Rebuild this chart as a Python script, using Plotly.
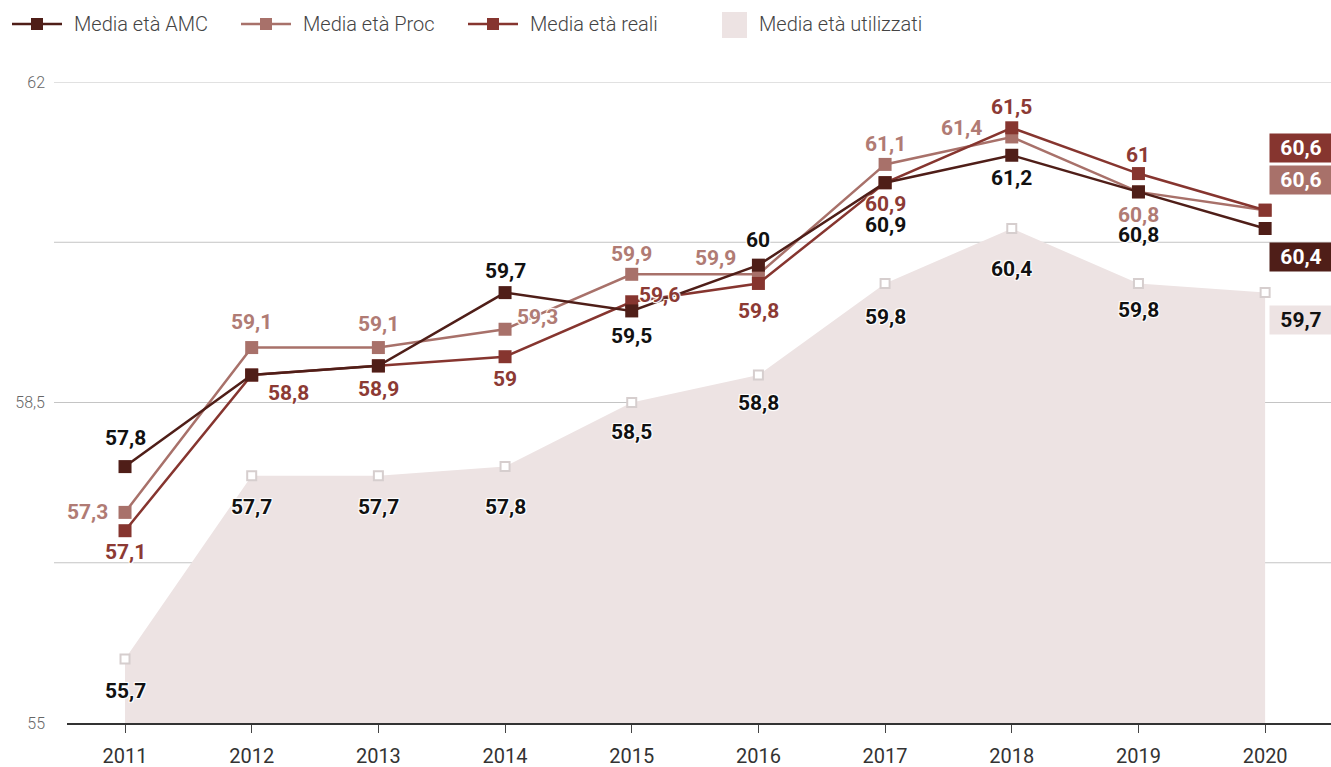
import plotly.graph_objects as go

years = ["2011", "2012", "2013", "2014", "2015", "2016", "2017", "2018", "2019", "2020"]
amc = [57.8, 58.8, 58.9, 59.7, 59.5, 60.0, 60.9, 61.2, 60.8, 60.4]
proc = [57.3, 59.1, 59.1, 59.3, 59.9, 59.9, 61.1, 61.4, 60.8, 60.6]
reali = [57.1, 58.8, 58.9, 59.0, 59.6, 59.8, 60.9, 61.5, 61.0, 60.6]
utilizzati = [55.7, 57.7, 57.7, 57.8, 58.5, 58.8, 59.8, 60.4, 59.8, 59.7]
names = ["Media età AMC", "Media età Proc", "Media età reali", "Media età utilizzati"]
y_ticks = [55, 56.75, 58.5, 60.25, 62]
y_ticktext = ["55", "", "58,5", "", "62"]

C_AMC = "#4f1e18"
C_PROC = "#a8716a"
C_REALI = "#86352f"
C_AREA = "#ede3e3"
T_AMC = "#111111"
T_PROC = "#b07b74"
T_REALI = "#8c3a34"

# label offsets (pixels) per point: (xshift, yshift) or None to hide
off_amc = [(0, 29), None, None, (0, 22), (0, -25), (0, 25), (0, -42), (0, -23), (0, -43)]
off_proc = [(-38, 0), (0, 26), (0, 24), (32, 12), (0, 20), (-43, 16), (0, 20), (-50, 9), (0, -23)]
off_reali = [(0, -21), (37, -18), (0, -23), (0, -22), (28, 7), (0, -28), (0, -21), (0, 21), (0, 19)]
off_util = [(0, -32), (0, -31), (0, -31), (0, -40), (0, -29), (0, -28), (0, -34), (0, -40), (0, -27)]
box_dy = {"amc": -28, "proc": 30, "reali": 62, "util": -27}

def fmt(v):
    s = f"{v:.1f}"
    if s.endswith(".0"):
        s = s[:-2]
    return s.replace(".", ",")

LBL_FONT = "Roboto"
LBL_SIZE = 21
SHADOW = "1px 1px 1px white, -1px -1px 1px white, 1px -1px 1px white, -1px 1px 1px white"
fig = go.Figure()
fig.add_trace(go.Scatter(
    x=years, y=utilizzati, mode="lines+markers", fill="tozeroy", fillcolor=C_AREA,
    line=dict(color=C_AREA, width=0),
    marker=dict(symbol="square", size=9, color="white", line=dict(color="#d6cece", width=2)),
    name=names[3], showlegend=False, hoverinfo="skip"))
for ys, col, nm in [(proc, C_PROC, names[1]), (reali, C_REALI, names[2]), (amc, C_AMC, names[0])]:
    fig.add_trace(go.Scatter(
        x=years, y=ys, mode="lines+markers", name=nm, showlegend=False,
        line=dict(color=col, width=2.5),
        marker=dict(symbol="square", size=13, color=col)))

ann = []
def add_labels(vals, offs, color):
    for i, o in enumerate(offs):
        if o is None:
            continue
        ann.append(dict(x=i, y=vals[i], xref="x", yref="y", text=fmt(vals[i]),
                        showarrow=False, xshift=o[0], yshift=o[1],
                        font=dict(family=LBL_FONT, size=LBL_SIZE, color=color, weight=700,
                                  shadow=SHADOW)))

add_labels(amc, off_amc, T_AMC)
add_labels(proc, off_proc, T_PROC)
add_labels(reali, off_reali, T_REALI)
add_labels(utilizzati, off_util, T_AMC)

last = len(years) - 1
for vals, key, bg, fc in [(amc, "amc", C_AMC, "white"), (proc, "proc", C_PROC, "white"),
                          (reali, "reali", C_REALI, "white"), (utilizzati, "util", C_AREA, "#111111")]:
    ann.append(dict(x=last, y=vals[-1], xref="x", yref="y", text=fmt(vals[-1]),
                    showarrow=False, xanchor="left", xshift=4, yshift=box_dy[key],
                    bgcolor=bg, width=58, height=24, borderpad=2,
                    font=dict(family=LBL_FONT, size=LBL_SIZE, color=fc, weight=700)))

# manual legend
W = 1331 - 67
H = 723 - 82
def px(x):
    return (x - 67) / W
def py(y):
    return (723 - y) / H

shapes = []
leg_y = 24
for x0, col, tx, nm in [(12, C_AMC, 72, names[0]), (241, C_PROC, 301, names[1]), (468, C_REALI, 528, names[2])]:
    shapes.append(dict(type="line", xref="paper", yref="paper", x0=px(x0), x1=px(x0 + 50),
                       y0=py(leg_y), y1=py(leg_y), line=dict(color=col, width=2.5), layer="above"))
    shapes.append(dict(type="rect", xref="paper", yref="paper", x0=px(x0 + 19), x1=px(x0 + 31),
                       y0=py(leg_y + 6), y1=py(leg_y - 6), fillcolor=col, line=dict(width=0), layer="above"))
    ann.append(dict(x=px(tx), y=py(leg_y), xref="paper", yref="paper", text=nm, showarrow=False,
                    xanchor="left", yanchor="middle",
                    font=dict(family="Roboto", size=20, color="#444444", weight=300)))
shapes.append(dict(type="rect", xref="paper", yref="paper", x0=px(722), x1=px(747),
                   y0=py(38), y1=py(12), fillcolor=C_AREA, line=dict(width=0), layer="above"))
ann.append(dict(x=px(757), y=py(leg_y), xref="paper", yref="paper", text=names[3], showarrow=False,
                xanchor="left", yanchor="middle",
                font=dict(family="Roboto", size=20, color="#444444", weight=300)))

# gridlines extending slightly left of the plot
for v in y_ticks[1:]:
    shapes.append(dict(type="line", xref="paper", yref="y", x0=px(54), x1=1, y0=v, y1=v,
                       line=dict(color="#c4c4c4", width=1), layer="below"))

fig.update_layout(
    width=1331, height=767,
    margin=dict(l=67, r=0, t=82, b=44),
    paper_bgcolor="white", plot_bgcolor="white",
    shapes=shapes, annotations=ann, showlegend=False,
    xaxis=dict(type="category", range=[-0.458, 9.52], showgrid=False, zeroline=False,
               showline=True, linecolor="#333333", linewidth=1.5,
               ticks="outside", ticklen=8, tickcolor="#444444", tickwidth=1,
               ticklabelstandoff=6,
               tickfont=dict(family="Roboto", size=20, color="#333333")),
    yaxis=dict(range=[55, 62], tickvals=y_ticks, ticktext=y_ticktext, showgrid=False,
               zeroline=False, showline=False, ticklabelstandoff=21,
               tickfont=dict(family="Roboto", size=16, color="#666666", weight=300)),
)
fig.write_html("out.html", config={"displayModeBar": False},
               post_script="document.body.style.margin='0';document.body.style.overflow='hidden';")
